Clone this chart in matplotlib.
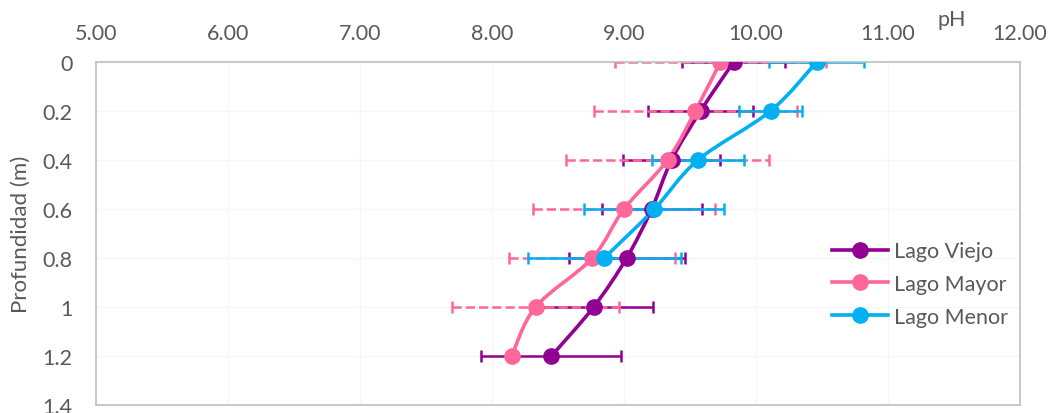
import numpy as np
import matplotlib.pyplot as plt
from matplotlib.path import Path
from matplotlib.patches import PathPatch
from matplotlib.lines import Line2D
from matplotlib.ticker import FuncFormatter

plt.rcParams['font.family'] = ['Lato', 'DejaVu Sans']

# pH por profundidad (m) en cada lago, con su desviacion
depth = [0, 0.2, 0.4, 0.6, 0.8, 1.0, 1.2]
viejo_ph = [9.83, 9.58, 9.36, 9.21, 9.02, 8.77, 8.45]
viejo_err = [0.39, 0.40, 0.37, 0.38, 0.44, 0.45, 0.53]
mayor_ph = [9.73, 9.54, 9.33, 9.00, 8.76, 8.33, 8.15]
mayor_err = [0.80, 0.77, 0.77, 0.69, 0.63, 0.63, 0.0]
menor_ph = [10.46, 10.11, 9.56, 9.23, 8.85]
menor_err = [0.36, 0.24, 0.35, 0.53, 0.58]

series = [
    ("Lago Viejo", viejo_ph, viejo_err, "#910091", "-"),
    ("Lago Mayor", mayor_ph, mayor_err, "#FF6699", "--"),
    ("Lago Menor", menor_ph, menor_err, "#00B0F0", "-"),
]

TEXT = "#595959"
FS = 15.5


def smooth_path(x, y):
    # curva suave tipo Excel (bezier por tramos)
    pts = np.column_stack([x, y]).astype(float)
    n = len(pts)
    verts = [pts[0]]
    codes = [Path.MOVETO]
    for i in range(n - 1):
        p0 = pts[max(i - 1, 0)]
        p1 = pts[i]
        p2 = pts[i + 1]
        p3 = pts[min(i + 2, n - 1)]
        verts += [p1 + (p2 - p0) / 6, p2 - (p3 - p1) / 6, p2]
        codes += [Path.CURVE4] * 3
    return Path(verts, codes)


fig = plt.figure(figsize=(10.5, 4.14), dpi=100)
ax = fig.add_axes([96 / 1050, 8 / 414, 924 / 1050, 343 / 414])

handles = []
for name, ph, err, color, ls in series:
    d = depth[:len(ph)]
    eb = ax.errorbar(ph, d, xerr=err, fmt='none', ecolor=color,
                     elinewidth=1.8, capsize=4, capthick=1.8, zorder=2)
    eb[2][0].set_linestyle(ls)
    ax.add_patch(PathPatch(smooth_path(ph, d), facecolor='none',
                           edgecolor=color, lw=2.6, zorder=3))
    ax.plot(ph, d, 'o', color=color, ms=11, zorder=4)
    handles.append(Line2D([], [], color=color, lw=2.6, marker='o', ms=11))

ax.set_xlim(5, 12)
ax.set_ylim(1.4, 0)
ax.set_xticks(np.arange(5, 12.01, 1))
ax.set_yticks(np.arange(0, 1.41, 0.2))
ax.xaxis.set_major_formatter(FuncFormatter(lambda v, p: f"{v:.2f}"))
ax.yaxis.set_major_formatter(FuncFormatter(lambda v, p: f"{v:g}"))
ax.xaxis.tick_top()
ax.tick_params(axis='x', length=0, pad=14, labelsize=FS, labelcolor=TEXT)
ax.tick_params(axis='y', length=0, pad=17, labelsize=FS, labelcolor=TEXT)
ax.grid(True, color="#F3F6FB", lw=0.9)
ax.set_axisbelow(True)
for s in ax.spines.values():
    s.set_color("#BFBFBF")
    s.set_linewidth(1.2)

ax.xaxis.set_label_position('top')
ax.set_xlabel("pH", fontsize=FS, color=TEXT)
ax.xaxis.set_label_coords(0.926, 1.125)
ax.xaxis.label.set_va('center')
ax.set_ylabel("Profundidad (m)", fontsize=FS + 0.5, color=TEXT)
ax.yaxis.set_label_coords(-0.081, 0.5)
ax.yaxis.label.set_va('center')

fig.legend(handles, [s[0] for s in series], loc='center left',
           bbox_to_anchor=(813 / 1050, 1 - 285 / 414), frameon=False,
           fontsize=FS, labelcolor=TEXT, handlelength=2.6, handletextpad=0.25,
           labelspacing=0.6)

fig.savefig("out.png", dpi=100, facecolor='white')
